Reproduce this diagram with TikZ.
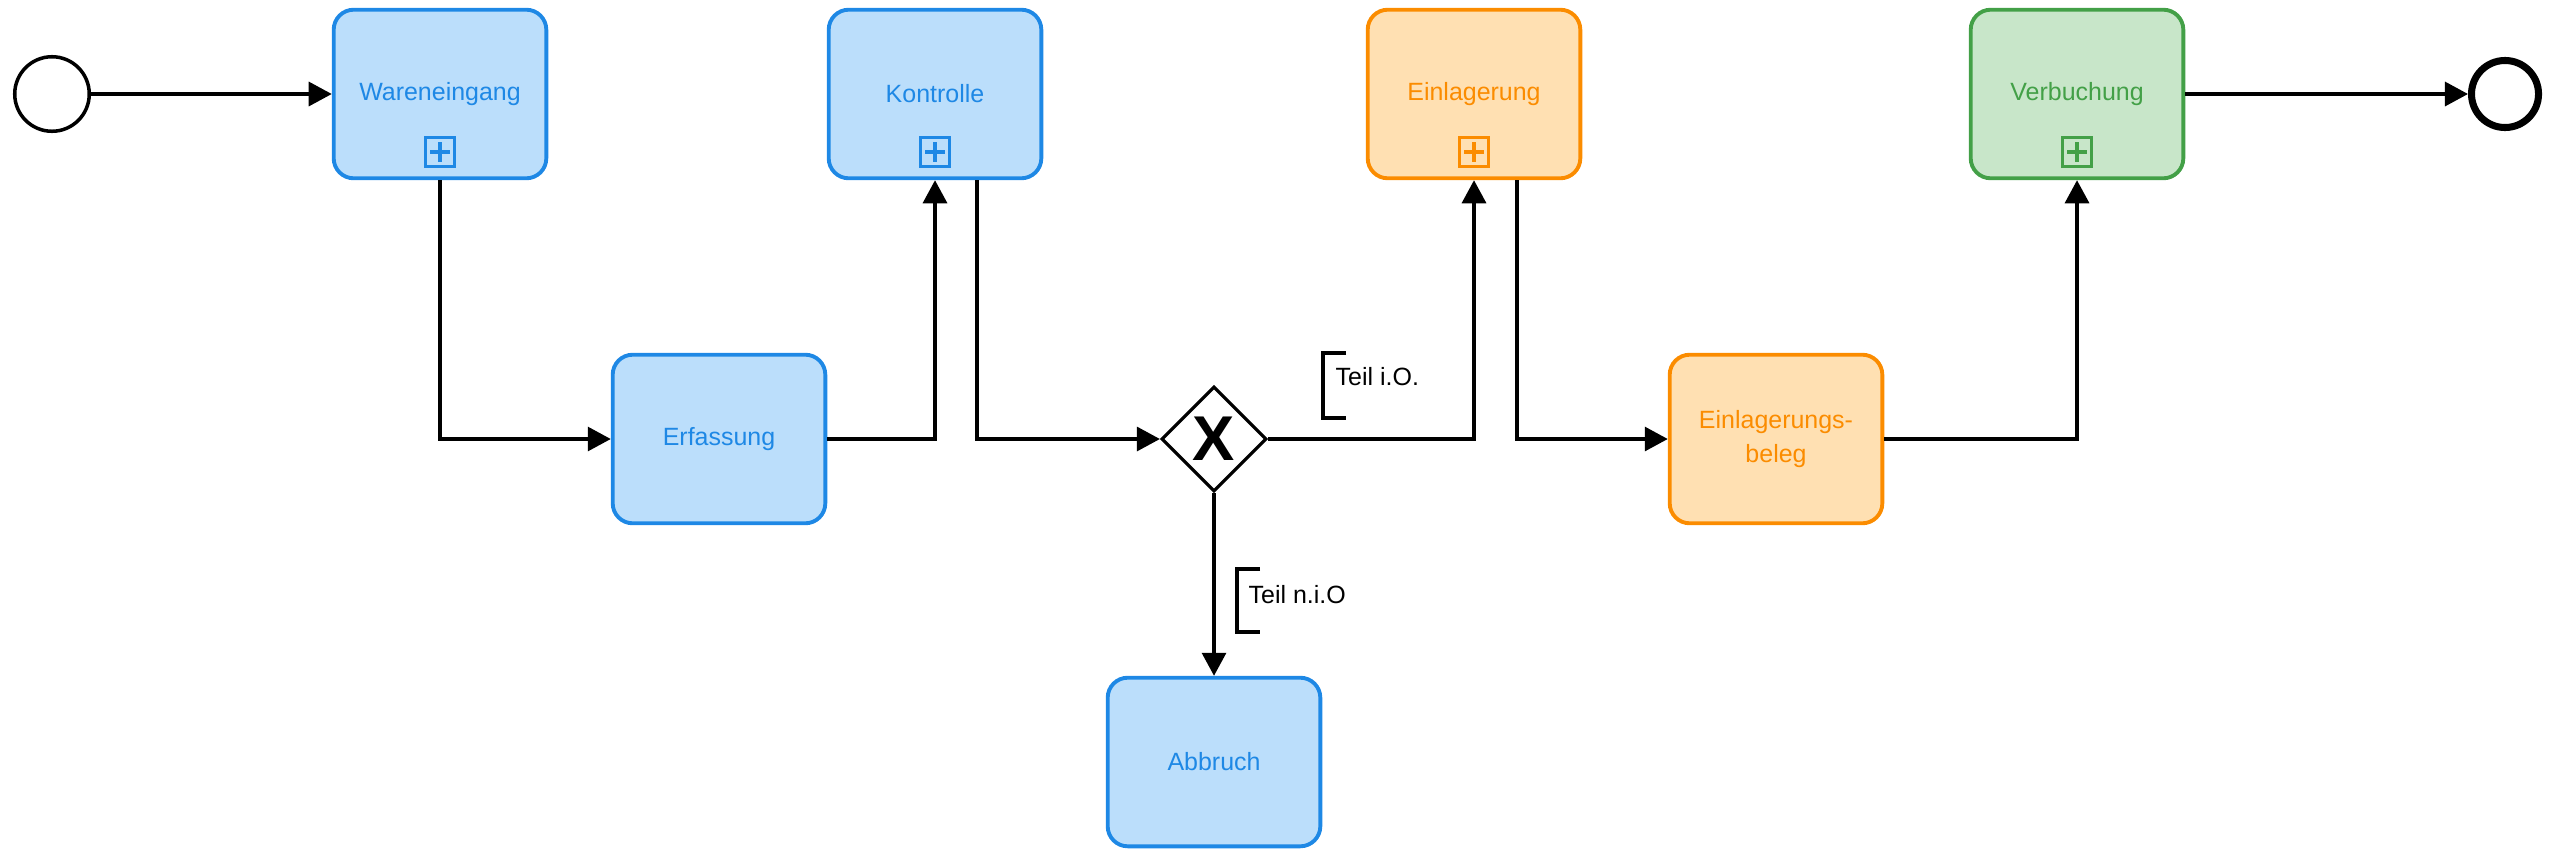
\documentclass[tikz,border=0pt]{standalone}
\usepackage{fontspec}
\setmainfont{Liberation Sans}
\usepackage{tikz}
\usetikzlibrary{arrows.meta, shapes.geometric, calc}

\definecolor{blueline}{HTML}{1E88E5}
\definecolor{bluefill}{HTML}{BBDEFB}
\definecolor{orangeline}{HTML}{FB8C00}
\definecolor{orangefill}{HTML}{FFE0B2}
\definecolor{greenline}{HTML}{43A047}
\definecolor{greenfill}{HTML}{C8E6C9}

\begin{document}
\begin{tikzpicture}[x=0.01cm, y=-0.01cm,
    every node/.style={font=\fontsize{7.1}{9.7}\selectfont},
    taskbox/.style={rectangle, rounded corners=0.2cm, draw=#1line, fill=#1fill, text=#1line,
        line width=1.1pt, minimum width=2.125cm, minimum height=1.685cm, align=center, inner sep=0},
    submark/.style={rectangle, draw=#1line, line width=0.6pt, minimum size=0.29cm, inner sep=0,
        path picture={\draw[#1line, line width=1.3pt]
            ($(path picture bounding box.center)+(-0.097cm,0)$) -- ($(path picture bounding box.center)+(0.097cm,0)$)
            ($(path picture bounding box.center)+(0,-0.097cm)$) -- ($(path picture bounding box.center)+(0,0.097cm)$);}},
    startev/.style={circle, draw, line width=1pt, minimum size=0.745cm, inner sep=0},
    endev/.style={circle, draw, line width=2pt, minimum size=0.67cm, inner sep=0},
    gateway/.style={diamond, draw, line width=0.9pt, minimum width=1.05cm, minimum height=1.05cm, inner sep=0, aspect=1},
    flow/.style={line width=0.9pt, -{Triangle[length=0.23cm, width=0.24cm]}},
    cond/.style={anchor=west, inner sep=0}]
    \useasboundingbox (0,0) rectangle (2549,851);

            \node[startev] at (52, 94)     (start) {};
            \node[taskbox=blue] at (440, 94)    (wein) {Wareneingang};
            \node[taskbox=blue] at (719, 439)   (erf) {Erfassung};
            \node[taskbox=blue] at (935, 94)    (kon) {Kontrolle};
            \node[gateway] at (1214, 439)  (gw) {\fontsize{18}{18}\selectfont\bfseries X};
            \node[taskbox=blue] at (1214, 762)  (abb) {Abbruch};
            \node[taskbox=orange] at (1474, 94)   (einl) {Einlagerung};
            \node[taskbox=orange] at (1776, 439)  (beleg) {Einlagerungs-\\beleg};
            \node[taskbox=green] at (2077, 94)    (verb) {Verbuchung};
            \node[endev] at (2505, 94)     (end) {};

            % Teilprozess-Marker
            \node[submark=blue] at (440, 152)    (weinm) {};
            \node[submark=blue] at (935, 152)    (konm) {};
            \node[submark=orange] at (1474, 152) (einlm) {};
            \node[submark=green] at (2077, 152)  (verbm) {};

            \draw [flow] (start) -- (wein);
            \draw [flow] (wein.south) |- (erf.west);
            \draw [flow] (erf.east) -| (kon.south);
            \draw [flow] ([xshift=0.42cm]kon.south) |- (gw.west);
            \draw [flow] (gw.east) -| (einl.south);
            \draw [flow] (gw.south) -- (abb.north);
            \draw [flow] ([xshift=0.43cm]einl.south) |- (beleg.west);
            \draw [flow] (beleg.east) -| (verb.south);
            \draw [flow] (verb) -- (end);

            % Bedingungen
            \node[cond] at (1335, 377)  (ok) {Teil i.O.};
            \node[cond] at (1248, 595)  (nok) {Teil n.i.O};
            \draw [line width=0.9pt] (1346, 353) -| (1323, 418) -- (1346, 418);
            \draw [line width=0.9pt] (1260, 569) -| (1237, 632) -- (1260, 632);

        \end{tikzpicture}
\end{document}
